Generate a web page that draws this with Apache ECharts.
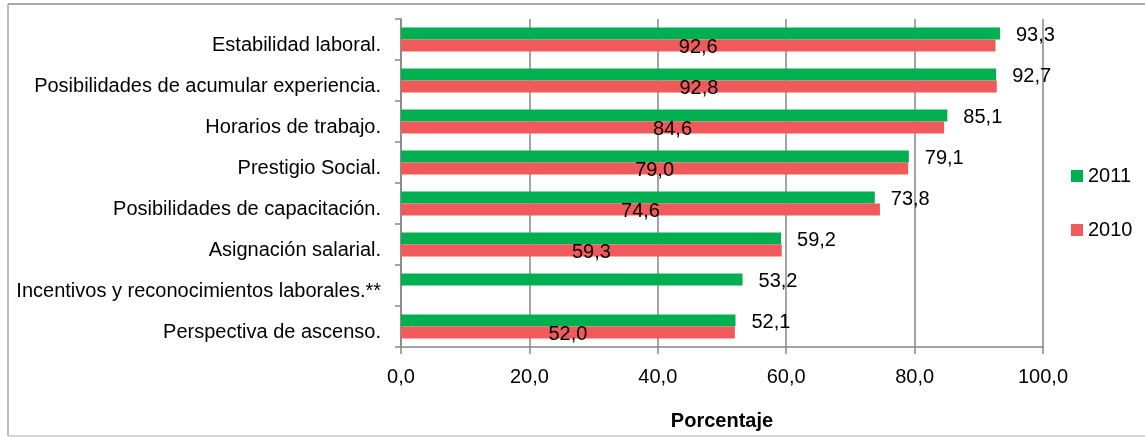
<!DOCTYPE html>
<html>
<head>
<meta charset="utf-8">
<script src="https://cdn.jsdelivr.net/npm/echarts@6/dist/echarts.min.js"></script>
<style>
html,body{margin:0;padding:0;background:#fff;}
#main{width:1145px;height:437px;}
</style>
</head>
<body>
<div id="main"></div>
<script>
const categories = [
  'Estabilidad laboral.',
  'Posibilidades de acumular experiencia.',
  'Horarios de trabajo.',
  'Prestigio Social.',
  'Posibilidades de capacitación.',
  'Asignación salarial.',
  'Incentivos y reconocimientos laborales.**',
  'Perspectiva de ascenso.'
];
const values2011 = [93.3, 92.7, 85.1, 79.1, 73.8, 59.2, 53.2, 52.1];
const values2010 = [92.6, 92.8, 84.6, 79.0, 74.6, 59.3, null, 52.0];
const seriesNames = ['2011', '2010'];

const FONT = '"Liberation Sans", Arial, sans-serif';
const FS = 20;
const fmt = v => (v == null ? '' : Number(v).toFixed(1).replace('.', ','));
const gridColor = '#868686';

const chart = echarts.init(document.getElementById('main'), null, {renderer: 'canvas'});
chart.setOption({
  animation: false,
  backgroundColor: '#fff',
  textStyle: {fontFamily: FONT},
  grid: {left: 401, right: 102, top: 19, bottom: 90, containLabel: false},
  legend: {
    orient: 'vertical',
    left: 1066, top: 161,
    icon: 'rect', itemWidth: 12, itemHeight: 12, itemGap: 34,
    textStyle: {fontFamily: FONT, fontSize: FS, color: '#000'},
    data: seriesNames
  },
  xAxis: {
    type: 'value', min: 0, max: 100, interval: 20,
    axisLine: {show: true, lineStyle: {color: gridColor, width: 1.5}},
    axisTick: {show: true, length: 7, lineStyle: {color: gridColor, width: 1.5}},
    splitLine: {show: true, lineStyle: {color: gridColor, width: 1.5}},
    axisLabel: {formatter: v => fmt(v), fontFamily: FONT, fontSize: FS, color: '#000', margin: 20},
    name: 'Porcentaje', nameLocation: 'middle', nameGap: 64,
    nameTextStyle: {fontFamily: FONT, fontSize: FS, fontWeight: 'bold', color: '#000'}
  },
  yAxis: {
    type: 'category', inverse: true, data: categories,
    axisLine: {show: true, lineStyle: {color: gridColor, width: 1.5}},
    axisTick: {show: true, length: 6, interval: 0, lineStyle: {color: gridColor, width: 1.5}},
    axisLabel: {fontFamily: FONT, fontSize: FS, color: '#000', margin: 20, interval: 0,
      verticalAlign: 'top', lineHeight: 12}
  },
  series: [
    {
      name: seriesNames[0], type: 'bar', data: values2011,
      barWidth: 12, barGap: '0%',
      itemStyle: {color: '#00B050'},
      label: {show: true, position: 'right', distance: 16, offset: [0, 2],
        formatter: p => fmt(p.value), fontFamily: FONT, fontSize: FS, color: '#000'}
    },
    {
      name: seriesNames[1], type: 'bar', data: values2010,
      barWidth: 12, barGap: '0%',
      itemStyle: {color: '#F05A5A'},
      label: {show: true, position: 'inside', offset: [0, 2],
        formatter: p => fmt(p.value), fontFamily: FONT, fontSize: FS, color: '#000'}
    }
  ],
  graphic: [
    {type: 'line', shape: {x1: 8, y1: 4, x2: 1145, y2: 4}, style: {stroke: '#8c8c8c', lineWidth: 1.5}},
    {type: 'line', shape: {x1: 8, y1: 4, x2: 8, y2: 436}, style: {stroke: '#a6a6a6', lineWidth: 1.5}},
    {type: 'line', shape: {x1: 8, y1: 436, x2: 1145, y2: 436}, style: {stroke: '#c8c8c8', lineWidth: 1.5}}
  ]
});
</script>
</body>
</html>
